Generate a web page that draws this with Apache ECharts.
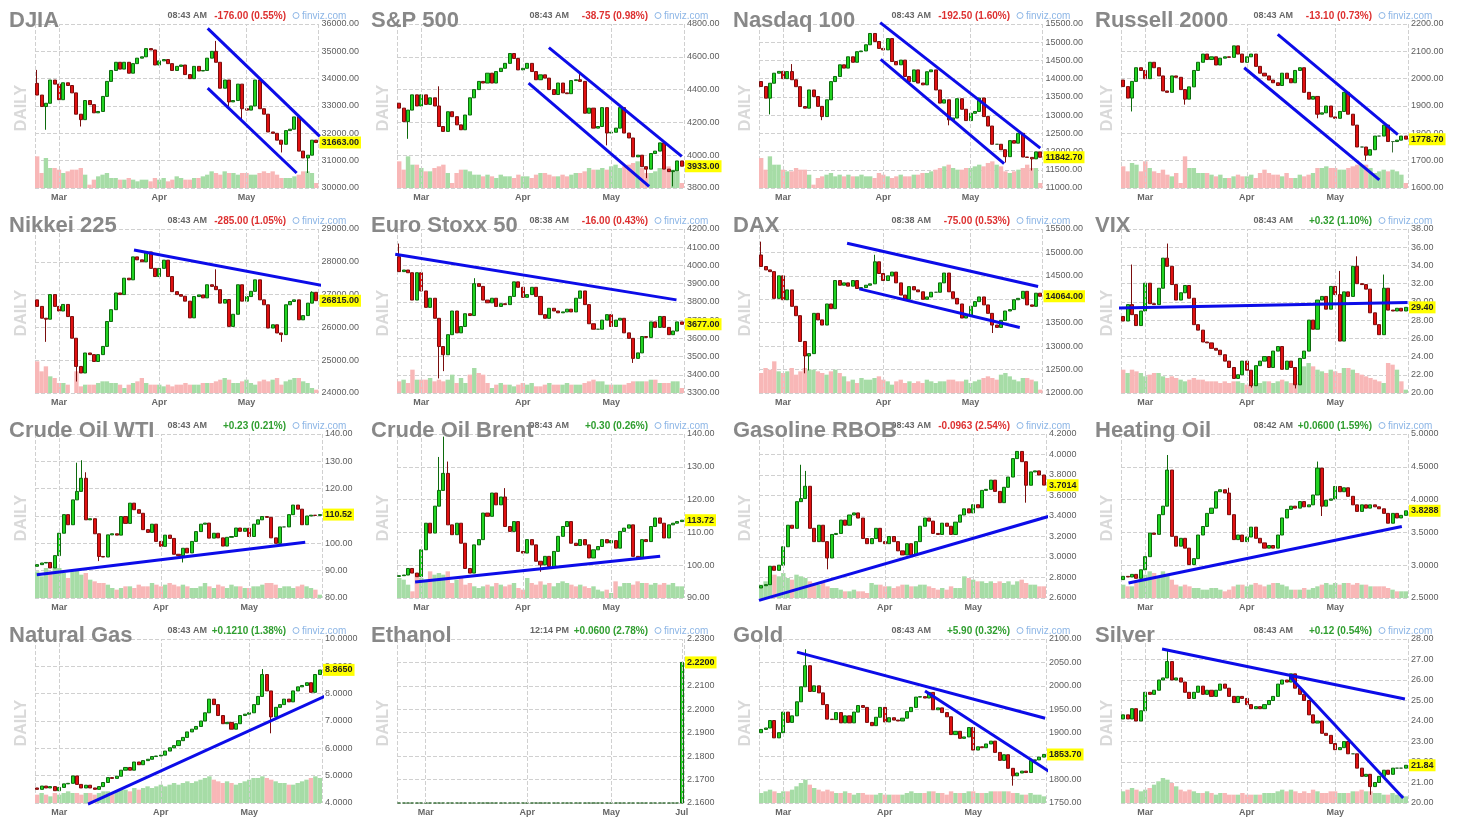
<!DOCTYPE html>
<html>
<head>
<meta charset="utf-8">
<title>Futures daily overview</title>
<script src="https://cdn.jsdelivr.net/npm/echarts@6/dist/echarts.min.js"></script>
<style>
  html, body { margin: 0; padding: 0; background: #fff; }
  #wrap { position: relative; width: 1458px; height: 821px; overflow: hidden; }
  .panel { position: absolute; }
</style>
</head>
<body>
<div id="wrap"></div>
<script>
// month ticks on the day axis (bar index -> label)
const tickIdx = [5, 28, 48];
const tickNames = ['Mar', 'Apr', 'May'];
const ethTickIdx = [6, 29, 48, 64];
const ethTickNames = ['Mar', 'Apr', 'May', 'Jul'];

// price paths: first value = open of the first bar, then the daily closes
const djiaPx = [33830,
  33400, 32980, 33100, 33950, 33800, 33230, 33850, 33750, 33480, 32700,
  32500, 33200, 33050, 32750, 32800, 33350, 33900, 34300, 34600, 34350,
  34600, 34200, 34550, 34750, 34800, 35100, 35050, 34500, 34650, 34700,
  34550, 34300, 34450, 34500, 34150, 34000, 34450, 34280, 34300, 34750,
  35000, 34600, 33650, 33950, 33150, 33200, 33800, 32900, 32850, 33000,
  33950, 32900, 32700, 32050, 32000, 31750, 31600, 32100, 32150, 32600,
  31350, 31100, 31200, 31750, 31663];
const spPx = [4317,
  4287, 4205, 4275, 4368, 4300, 4368, 4310, 4350, 4300, 4175,
  4145, 4265, 4235, 4185, 4155, 4245, 4350, 4400, 4450, 4440,
  4500, 4440, 4510, 4530, 4560, 4620, 4590, 4520, 4530, 4560,
  4510, 4460, 4490, 4470, 4400, 4370, 4440, 4380, 4375, 4455,
  4460, 4450, 4256, 4287, 4165, 4175, 4290, 4135, 4140, 4165,
  4290, 4135, 4105, 3990, 4000, 3930, 3915, 4010, 4025, 4075,
  3915, 3900, 3905, 3965, 3933];
const ndxPx = [13921,
  13784, 13465, 13875, 14150, 14200, 14000, 14195, 13970, 13780, 13235,
  13190, 13690, 13510, 13240, 12960, 13420, 13920, 14060, 14380, 14290,
  14600, 14450, 14740, 14760, 14930, 15240, 15020, 14830, 14790, 15100,
  14470, 14380, 14510, 14060, 13920, 14240, 13880, 13830, 14190, 14240,
  13690, 13330, 13420, 12870, 12920, 13450, 13160, 12850, 13050, 13100,
  13470, 12960, 12700, 12200, 12200, 12050, 11860, 12300, 12230, 12500,
  11850, 11840, 11800, 11990, 11842.7];
const rutPx = [1995,
  1971, 1929, 1990, 2040, 2030, 2000, 2060, 2040, 2010, 1955,
  1950, 2010, 2005, 1960, 1925, 1970, 2030, 2060, 2090, 2070,
  2080, 2050, 2075, 2080, 2078, 2120, 2090, 2060, 2080, 2090,
  2045, 2020, 2010, 1995, 1985, 1975, 2020, 2000, 1985, 2030,
  2040, 1950, 1925, 1935, 1870, 1875, 1900, 1860, 1855, 1880,
  1950, 1870, 1830, 1750, 1750, 1720, 1740, 1790, 1790, 1830,
  1770, 1770, 1775, 1790, 1778.7];
const n225Px = [26840,
  26640, 26280, 26250, 27000, 26640, 26500, 26700, 26330, 25670, 24810,
  24610, 25220, 25170, 24960, 25170, 25420, 26180, 26540, 27050, 27000,
  27500, 27450, 28150, 28060, 28000, 28300, 27800, 27550, 27800, 28050,
  27550, 27090, 27000, 26950, 26800, 26290, 26940, 26990, 26900, 27300,
  27250, 27150, 26740, 26850, 26030, 26400, 27300, 26800, 26940, 27100,
  27450, 26840, 26690, 25980, 26080, 25830, 25780, 26690, 26790, 26840,
  26230, 26360, 26740, 27070, 26815];
const sx5ePx = [4048,
  3966, 3975, 3960, 3810, 3960, 3860, 3770, 3820, 3710, 3555,
  3510, 3620, 3750, 3630, 3665, 3735, 3725, 3900, 3885, 3810,
  3795, 3820, 3775, 3790, 3785, 3830, 3910, 3880, 3825, 3840,
  3880, 3830, 3730, 3710, 3765, 3750, 3740, 3745, 3760, 3745,
  3820, 3860, 3785, 3680, 3650, 3650, 3700, 3730, 3665, 3700,
  3710, 3630, 3600, 3490, 3520, 3610, 3605, 3690, 3660, 3720,
  3660, 3620, 3640, 3690, 3677];
const daxPx = [14946,
  14700, 14627, 14590, 14020, 14500, 13990, 14200, 13850, 13650, 13100,
  12790, 12840, 13700, 13560, 13450, 13900, 13800, 14400, 14300, 14350,
  14280, 14400, 14230, 14250, 14300, 14330, 14800, 14550, 14400, 14500,
  14580, 14350, 14090, 14000, 14270, 14200, 14160, 14000, 14050, 14150,
  14150, 14350, 14560, 14160, 14020, 13900, 13600, 13650, 13850, 13950,
  14050, 13880, 13700, 13450, 13400, 13550, 13750, 13780, 13990, 14020,
  14170, 13880, 13850, 14130, 14064];
const vixPx = [28.4,
  27.9, 29.7, 28.6, 27.4, 29.0, 32.05, 29.8, 29.7, 31.5, 34.8,
  33.9, 31.9, 30.2, 31.0, 31.8, 30.4, 27.5, 26.9, 25.6, 25.5,
  24.9, 24.7, 24.2, 23.5, 22.8, 21.6, 22.0, 23.5, 22.5, 20.8,
  23.0, 23.5, 24.0, 22.8, 24.6, 25.1, 22.6, 23.5, 22.8, 20.9,
  23.8, 24.6, 28.0, 27.0, 30.2, 30.6, 29.2, 31.7, 30.8, 25.7,
  31.1, 30.6, 33.9, 32.0, 31.9, 31.4, 28.8, 27.5, 26.4, 31.5,
  29.1, 29.0, 29.3, 29.0, 29.4];
const wtiPx = [91.6,
  92.2, 92.8, 93.0, 91.0, 95.5, 103.7, 110.5, 106.8, 115.9, 119.0,
  123.8, 108.6, 109.0, 103.5, 95.2, 95.0, 103.1, 103.5, 103.0, 109.8,
  107.3, 114.7, 112.3, 111.0, 105.0, 104.0, 107.0, 100.7, 98.9, 103.0,
  101.8, 96.0, 95.5, 98.2, 96.5, 100.7, 104.3, 107.0, 107.4, 101.9,
  103.7, 102.0, 99.0, 102.2, 102.5, 105.6, 104.4, 105.5, 102.5, 107.0,
  108.6, 109.8, 109.5, 102.0, 100.0, 106.0, 106.0, 110.5, 114.0, 112.5,
  106.8, 110.0, 110.3, 110.2, 110.52];
const brentPx = [96.6,
  96.8, 97.0, 99.0, 97.6, 96.5, 104.7, 112.8, 109.8, 118.0, 122.8,
  128.0, 112.3, 109.3, 112.8, 106.7, 99.0, 97.6, 106.2, 107.8, 115.9,
  114.9, 122.0, 118.4, 120.8, 111.8, 110.3, 113.3, 104.2, 103.7, 107.8,
  106.2, 101.2, 100.1, 102.7, 99.6, 104.2, 108.8, 111.8, 113.3, 106.7,
  106.0, 107.8, 106.2, 102.2, 104.7, 105.7, 107.8, 106.8, 107.5, 105.2,
  110.3, 111.3, 112.3, 102.7, 102.0, 107.8, 107.2, 111.8, 114.4, 112.8,
  108.3, 112.3, 112.8, 113.3, 113.72];
const gasPx = [2.698,
  2.72, 2.73, 2.91, 2.87, 2.92, 3.10, 3.31, 3.28, 3.54, 3.57,
  3.69, 3.28, 3.15, 3.31, 3.15, 2.99, 3.22, 3.23, 3.36, 3.31,
  3.41, 3.43, 3.38, 3.18, 3.13, 3.18, 3.28, 3.15, 3.13, 3.20,
  3.15, 3.06, 3.02, 3.13, 3.02, 3.15, 3.30, 3.38, 3.35, 3.23,
  3.22, 3.33, 3.30, 3.22, 3.34, 3.41, 3.47, 3.43, 3.51, 3.48,
  3.65, 3.66, 3.75, 3.64, 3.53, 3.68, 3.78, 3.96, 4.03, 3.93,
  3.70, 3.83, 3.84, 3.80, 3.7014];
const heatPx = [2.78,
  2.83, 2.82, 2.86, 2.80, 2.93, 3.13, 3.49, 3.47, 3.77, 3.90,
  4.45, 3.44, 3.29, 3.41, 3.26, 3.01, 3.10, 3.46, 3.59, 3.79,
  3.87, 4.12, 4.15, 4.10, 3.77, 3.39, 3.46, 3.36, 3.43, 3.58,
  3.41, 3.34, 3.26, 3.30, 3.26, 3.46, 3.72, 3.85, 3.90, 3.87,
  3.97, 3.89, 3.92, 4.07, 4.48, 3.90, 3.99, 4.01, 4.20, 4.12,
  4.18, 4.05, 3.92, 3.82, 3.92, 3.87, 3.92, 3.89, 3.86, 3.79,
  3.64, 3.79, 3.72, 3.76, 3.8288];
const ngPx = [4.55,
  4.50, 4.62, 4.55, 4.60, 4.45, 4.57, 4.70, 4.72, 4.99, 4.68,
  4.55, 4.65, 4.55, 4.50, 4.60, 4.75, 4.93, 4.90, 4.98, 5.20,
  5.30, 5.20, 5.50, 5.40, 5.55, 5.60, 5.70, 5.72, 5.75, 5.90,
  6.02, 6.10, 6.28, 6.40, 6.60, 6.70, 6.80, 7.00, 7.30, 7.80,
  7.60, 7.20, 6.90, 6.95, 6.70, 6.90, 7.20, 7.25, 7.30, 7.60,
  7.90, 8.70, 8.10, 7.15, 7.50, 7.60, 7.80, 7.70, 8.10, 8.25,
  8.30, 8.40, 8.05, 8.70, 8.865];
const ethPx = [2.16,
  2.16, 2.16, 2.16, 2.16, 2.16, 2.16, 2.16, 2.16, 2.16, 2.16,
  2.16, 2.16, 2.16, 2.16, 2.16, 2.16, 2.16, 2.16, 2.16, 2.16,
  2.16, 2.16, 2.16, 2.16, 2.16, 2.16, 2.16, 2.16, 2.16, 2.16,
  2.16, 2.16, 2.16, 2.16, 2.16, 2.16, 2.16, 2.16, 2.16, 2.16,
  2.16, 2.16, 2.16, 2.16, 2.16, 2.16, 2.16, 2.16, 2.16, 2.16,
  2.16, 2.16, 2.16, 2.16, 2.16, 2.16, 2.16, 2.16, 2.16, 2.16,
  2.16, 2.16, 2.16, 2.16, 2.22];
const goldPx = [1900,
  1907, 1910, 1926, 1889, 1900, 1944, 1922, 1936, 1966, 1998,
  2043, 1988, 2000, 1985, 1960, 1929, 1928, 1943, 1921, 1936,
  1921, 1944, 1958, 1954, 1922, 1915, 1933, 1954, 1923, 1932,
  1927, 1925, 1931, 1945, 1954, 1976, 1977, 1974, 1986, 1949,
  1953, 1943, 1934, 1896, 1903, 1888, 1891, 1911, 1863, 1870,
  1868, 1876, 1882, 1858, 1841, 1853, 1824, 1808, 1814, 1818,
  1815, 1841, 1842, 1848, 1853.7];
const silverPx = [24.1,
  24.3, 24.1, 24.6, 24.0, 24.5, 25.4, 25.3, 25.5, 26.0, 26.1,
  26.9, 26.0, 26.1, 25.9, 25.4, 25.1, 25.4, 25.7, 25.3, 25.5,
  25.2, 25.5, 25.8, 25.6, 25.2, 24.9, 25.2, 25.1, 24.8, 24.6,
  24.7, 24.6, 24.8, 25.0, 25.2, 25.8, 26.0, 25.9, 26.3, 25.6,
  25.3, 25.0, 24.3, 23.9, 24.0, 23.4, 23.3, 22.9, 22.6, 22.7,
  23.0, 22.4, 22.4, 21.7, 21.3, 21.4, 20.8, 21.0, 21.3, 21.6,
  21.4, 21.7, 21.7, 21.7, 21.84];

// the longer wicks seen in the picture: [bar, high, low] (null = no extra wick)
const djiaWicks = [[0, 34320, null], [2, null, 32130], [10, null, 32250], [41, 35380, null], [44, null, 32900], [47, null, 32450], [56, null, 31300], [62, null, 30550]];
const spWicks = [[2, null, 4100], [9, 4420, null], [41, 4510, null], [47, null, 4060], [56, null, 3860], [62, null, 3810]];
const ndxWicks = [[2, null, 13020], [7, 14400, null], [14, null, 12860], [43, null, 12720], [56, null, 11700], [62, null, 11480]];
const rutWicks = [[2, null, 1880], [14, null, 1905], [44, null, 1855], [55, null, 1700], [61, null, 1730]];
const n225Wicks = [[2, null, 25560], [9, null, 24350], [41, 27770, null], [56, null, 25560], [63, 27100, null]];
const sx5eWicks = [[0, 4120, null], [9, null, 3380], [10, null, 3420], [17, 3930, null], [53, null, 3465]];
const daxWicks = [[0, 15230, null], [10, null, 12420], [11, null, 12480], [26, 14950, null], [53, null, 13280]];
const vixWicks = [[2, 34.1, null], [10, 36.4, null], [29, null, 20.6], [39, null, 20.5], [49, 33.4, null], [53, 35.0, null], [59, 33.0, null]];
const wtiWicks = [[9, 129.5, null], [10, 130.4, null], [11, 126.0, null], [14, null, 93.5], [33, null, 93.0]];
const brentWicks = [[9, 133.0, null], [10, 139.2, null], [11, 131.6, null], [24, 123.5, null], [32, null, 98.0]];
const gasWicks = [[9, 3.90, null], [10, 3.84, null], [15, null, 2.88], [60, null, 3.53]];
const heatWicks = [[10, 4.68, null], [24, 4.18, null], [44, 4.58, null], [45, null, 3.75]];
const ngWicks = [[53, null, 6.55], [51, 8.90, null]];
const goldWicks = [[10, 2078, null], [57, null, 1787]];
const silverWicks = [[10, 27.5, null], [56, null, 20.4]];

// relative daily volume
const djiaVol = [95, 45, 90, 60, 60, 55, 45, 50, 55, 55, 60, 40, 10, 25, 35, 40, 45, 30, 30, 25,
  25, 30, 25, 20, 25, 25, 20, 30, 25, 30, 20, 25, 35, 30, 25, 25, 30, 30, 35, 40,
  50, 45, 40, 50, 45, 45, 40, 45, 45, 40, 40, 45, 50, 45, 50, 40, 30, 30, 30, 35,
  40, 50, 50, 45, 15];
const spVol = [80, 55, 95, 70, 70, 60, 50, 50, 60, 65, 70, 45, 15, 45, 55, 55, 50, 40, 40, 35,
  40, 35, 30, 40, 35, 35, 30, 40, 35, 35, 30, 40, 45, 45, 40, 35, 35, 40, 35, 40,
  45, 45, 50, 60, 55, 55, 60, 55, 65, 70, 60, 65, 70, 75, 80, 60, 45, 45, 50, 60,
  55, 65, 55, 50, 15];
const ndxVol = [90, 55, 95, 70, 70, 55, 50, 50, 60, 55, 55, 40, 10, 30, 35, 40, 45, 35, 40, 35,
  40, 35, 35, 40, 35, 35, 30, 45, 40, 35, 30, 35, 40, 35, 35, 40, 40, 45, 45, 50,
  55, 60, 65, 70, 60, 55, 55, 60, 60, 65, 70, 65, 75, 80, 70, 65, 50, 45, 50, 55,
  60, 70, 60, 60, 15];
const rutVol = [65, 50, 75, 70, 50, 80, 60, 50, 45, 55, 40, 35, 45, 15, 95, 60, 60, 45, 45, 45,
  40, 35, 40, 30, 30, 35, 40, 35, 35, 40, 30, 45, 55, 45, 40, 40, 35, 45, 30, 30,
  40, 35, 40, 45, 60, 60, 65, 60, 60, 55, 55, 60, 65, 70, 70, 70, 60, 45, 50, 55,
  50, 55, 50, 40, 15];
const n225Vol = [95, 65, 80, 50, 45, 30, 30, 25, 0, 65, 20, 25, 25, 25, 30, 35, 35, 30, 30, 25,
  15, 25, 30, 35, 45, 30, 25, 25, 25, 20, 25, 20, 25, 25, 30, 25, 25, 25, 30, 30,
  30, 35, 40, 45, 40, 30, 30, 35, 40, 30, 25, 35, 40, 35, 40, 45, 25, 35, 40, 45,
  45, 35, 30, 15, 10];
const sx5eVol = [35, 40, 30, 70, 40, 40, 40, 45, 35, 40, 35, 40, 55, 30, 45, 30, 55, 75, 60, 55,
  30, 15, 25, 30, 25, 25, 20, 25, 30, 25, 30, 20, 20, 25, 30, 25, 25, 25, 30, 25,
  25, 25, 30, 35, 40, 35, 35, 25, 25, 25, 25, 25, 30, 35, 35, 35, 35, 40, 40, 30,
  30, 30, 35, 35, 15];
const daxVol = [60, 75, 70, 95, 65, 60, 65, 75, 55, 65, 75, 70, 70, 65, 60, 55, 65, 70, 60, 50,
  35, 40, 30, 45, 40, 40, 45, 50, 40, 35, 25, 35, 40, 30, 35, 30, 35, 30, 40, 35,
  30, 35, 35, 40, 40, 35, 35, 40, 30, 35, 40, 45, 50, 45, 40, 55, 60, 50, 40, 35,
  45, 45, 40, 35, 10];
const vixVol = [70, 60, 70, 65, 60, 50, 55, 60, 60, 50, 45, 50, 45, 40, 35, 40, 45, 40, 40, 35,
  35, 35, 30, 35, 30, 35, 35, 30, 25, 30, 30, 30, 35, 35, 30, 35, 40, 35, 30, 30,
  55, 80, 90, 80, 70, 65, 60, 70, 65, 60, 75, 75, 70, 60, 55, 50, 45, 40, 35, 30,
  90, 85, 70, 35, 10];
const wtiVol = [80, 65, 90, 80, 95, 90, 75, 60, 80, 85, 70, 75, 55, 50, 45, 45, 40, 30, 25, 30,
  35, 35, 30, 40, 35, 35, 45, 40, 35, 40, 45, 40, 35, 40, 35, 30, 30, 35, 45, 35,
  30, 40, 35, 30, 40, 35, 35, 30, 30, 35, 35, 40, 45, 45, 40, 30, 35, 35, 30, 35,
  40, 35, 30, 25, 10];
const brentVol = [60, 55, 40, 20, 75, 60, 55, 80, 70, 75, 70, 80, 45, 55, 60, 40, 45, 35, 30, 35,
  40, 35, 45, 40, 35, 40, 45, 30, 25, 60, 45, 40, 50, 40, 45, 35, 45, 50, 45, 40,
  35, 40, 35, 30, 35, 25, 20, 25, 15, 50, 35, 45, 45, 40, 50, 45, 45, 40, 45, 40,
  45, 40, 45, 35, 35];
const gasVol = [40, 50, 60, 70, 65, 75, 60, 55, 70, 65, 60, 50, 45, 40, 45, 35, 30, 30, 25, 20,
  20, 25, 20, 20, 15, 45, 40, 40, 35, 35, 30, 35, 40, 40, 35, 35, 40, 40, 35, 30,
  25, 30, 25, 35, 30, 30, 65, 60, 55, 50, 50, 45, 50, 45, 50, 45, 50, 40, 50, 55,
  45, 40, 40, 35, 35];
const heatVol = [40, 35, 35, 45, 65, 70, 80, 75, 60, 80, 70, 55, 40, 35, 40, 35, 30, 30, 25, 25,
  30, 30, 25, 20, 25, 35, 40, 40, 35, 40, 45, 40, 35, 40, 45, 45, 40, 35, 25, 25,
  25, 30, 25, 30, 35, 40, 45, 40, 45, 40, 45, 45, 40, 45, 40, 40, 35, 35, 35, 35,
  30, 25, 20, 20, 20];
const ngVol = [25, 30, 25, 20, 30, 25, 30, 35, 30, 30, 25, 30, 30, 25, 30, 35, 35, 30, 35, 40,
  40, 35, 45, 40, 45, 50, 45, 50, 55, 50, 55, 60, 55, 60, 65, 60, 65, 70, 75, 80,
  70, 65, 60, 65, 60, 55, 60, 65, 70, 75, 75, 80, 75, 70, 65, 60, 60, 55, 55, 60,
  65, 70, 75, 80, 75];
const goldVol = [30, 35, 40, 35, 30, 35, 35, 40, 50, 60, 70, 55, 45, 40, 35, 40, 35, 30, 30, 35,
  30, 25, 30, 30, 25, 25, 25, 30, 25, 25, 25, 25, 25, 30, 35, 30, 30, 30, 35, 35,
  30, 30, 25, 35, 30, 30, 30, 35, 35, 30, 30, 30, 35, 35, 35, 35, 35, 30, 30, 25,
  25, 30, 25, 25, 20];
const silverVol = [35, 40, 45, 40, 35, 40, 45, 55, 65, 75, 70, 60, 50, 40, 35, 40, 35, 30, 30, 35,
  30, 25, 30, 30, 25, 25, 25, 30, 25, 25, 25, 25, 30, 30, 30, 35, 40, 35, 40, 35,
  30, 35, 30, 40, 35, 30, 30, 35, 35, 30, 30, 30, 35, 35, 40, 35, 35, 30, 30, 25,
  25, 30, 25, 25, 20];

// trend lines: [start bar, start value, end bar, end value]
const djiaTrend = [[39.1, 35842, 64.8, 31888], [39.1, 33652, 59.5, 30550]];
const spTrend = [[33.9, 4656, 64.0, 3993], [29.3, 4439, 56.6, 3810]];
const ndxTrend = [[27.3, 15536, 64.0, 12095], [27.4, 14532, 55.7, 11666]];
const rutTrend = [[35.0, 2162, 62.2, 1795], [27.4, 2040, 58.0, 1630]];
const n225Trend = [[22.2, 28361, 66.7, 27246]];
const sx5eTrend = [[-0.9, 4061, 62.8, 3811]];
const daxTrend = [[19.7, 15195, 63.5, 14272], [22.5, 14222, 59.3, 13398]];
const vixTrend = [[-1.6, 29.31, 64.4, 29.93]];
const wtiTrend = [[-0.1, 88.5, 60.7, 100.4]];
const brentTrend = [[3.6, 94.9, 59.1, 102.7]];
const gasTrend = [[-0.5, 2.577, 65.0, 3.395]];
const heatTrend = [[1.2, 2.728, 63.1, 3.590]];
const ngTrend = [[11.5, 3.96, 65.2, 7.91]];
const goldTrend = [[8.1, 2072, 64.3, 1931], [37.1, 1989, 65.4, 1816]];
const silverTrend = [[8.8, 27.51, 63.8, 25.07], [37.8, 26.15, 63.4, 20.24]];

const panels = [
  { name: 'DJIA', time: '08:43 AM', chg: '-176.00 (0.55%)', up: false, px: djiaPx, wicks: djiaWicks, vol: djiaVol, min: 30000, max: 36000, step: 1000, dec: 2, trend: djiaTrend },
  { name: 'S&P 500', time: '08:43 AM', chg: '-38.75 (0.98%)', up: false, px: spPx, wicks: spWicks, vol: spVol, min: 3800, max: 4800, step: 200, dec: 2, trend: spTrend },
  { name: 'Nasdaq 100', time: '08:43 AM', chg: '-192.50 (1.60%)', up: false, px: ndxPx, wicks: ndxWicks, vol: ndxVol, min: 11000, max: 15500, step: 500, dec: 2, trend: ndxTrend },
  { name: 'Russell 2000', time: '08:43 AM', chg: '-13.10 (0.73%)', up: false, px: rutPx, wicks: rutWicks, vol: rutVol, min: 1600, max: 2200, step: 100, dec: 2, trend: rutTrend },
  { name: 'Nikkei 225', time: '08:43 AM', chg: '-285.00 (1.05%)', up: false, px: n225Px, wicks: n225Wicks, vol: n225Vol, min: 24000, max: 29000, step: 1000, dec: 2, trend: n225Trend },
  { name: 'Euro Stoxx 50', time: '08:38 AM', chg: '-16.00 (0.43%)', up: false, px: sx5ePx, wicks: sx5eWicks, vol: sx5eVol, min: 3300, max: 4200, step: 100, dec: 2, trend: sx5eTrend },
  { name: 'DAX', time: '08:38 AM', chg: '-75.00 (0.53%)', up: false, px: daxPx, wicks: daxWicks, vol: daxVol, min: 12000, max: 15500, step: 500, dec: 2, trend: daxTrend },
  { name: 'VIX', time: '08:43 AM', chg: '+0.32 (1.10%)', up: true, px: vixPx, wicks: vixWicks, vol: vixVol, min: 20, max: 38, step: 2, dec: 2, trend: vixTrend },
  { name: 'Crude Oil WTI', time: '08:43 AM', chg: '+0.23 (0.21%)', up: true, px: wtiPx, wicks: wtiWicks, vol: wtiVol, min: 80, max: 140, step: 10, dec: 2, trend: wtiTrend },
  { name: 'Crude Oil Brent', time: '08:43 AM', chg: '+0.30 (0.26%)', up: true, px: brentPx, wicks: brentWicks, vol: brentVol, min: 90, max: 140, step: 10, dec: 2, trend: brentTrend },
  { name: 'Gasoline RBOB', time: '08:43 AM', chg: '-0.0963 (2.54%)', up: false, px: gasPx, wicks: gasWicks, vol: gasVol, min: 2.6, max: 4.2, step: 0.2, dec: 4, trend: gasTrend },
  { name: 'Heating Oil', time: '08:42 AM', chg: '+0.0600 (1.59%)', up: true, px: heatPx, wicks: heatWicks, vol: heatVol, min: 2.5, max: 5.0, step: 0.5, dec: 4, trend: heatTrend },
  { name: 'Natural Gas', time: '08:43 AM', chg: '+0.1210 (1.38%)', up: true, px: ngPx, wicks: ngWicks, vol: ngVol, min: 4, max: 10, step: 1, dec: 4, trend: ngTrend },
  { name: 'Ethanol', time: '12:14 PM', chg: '+0.0600 (2.78%)', up: true, px: ethPx, wicks: [], vol: null, min: 2.16, max: 2.23, step: 0.01, dec: 4, trend: [], ticks: ethTickIdx, tickLabels: ethTickNames },
  { name: 'Gold', time: '08:43 AM', chg: '+5.90 (0.32%)', up: true, px: goldPx, wicks: goldWicks, vol: goldVol, min: 1750, max: 2100, step: 50, dec: 2, trend: goldTrend },
  { name: 'Silver', time: '08:43 AM', chg: '+0.12 (0.54%)', up: true, px: silverPx, wicks: silverWicks, vol: silverVol, min: 20, max: 28, step: 1, dec: 2, trend: silverTrend }
];

const FONT = 'Arial, "Liberation Sans", sans-serif';
const colLeft = [0, 362, 724, 1086];

function buildOption(p) {
  const n = p.px.length - 1;
  const ticks = p.ticks || tickIdx;
  const names = p.tickLabels || tickNames;
  const cats = [], candles = [], vols = [];
  for (let i = 0; i < n; i++) {
    const o = p.px[i], c = p.px[i + 1];
    let lo = Math.min(o, c), hi = Math.max(o, c);
    p.wicks.forEach(w => {
      if (w[0] !== i) return;
      if (w[1] != null) hi = Math.max(hi, w[1]);
      if (w[2] != null) lo = Math.min(lo, w[2]);
    });
    cats.push(String(i));
    candles.push([o, c, lo, hi]);
    if (p.vol) vols.push({ value: p.vol[i], itemStyle: { color: c >= o ? '#a6dca6' : '#f8b7b7' } });
  }
  const last = p.px[n];
  const series = [
    {
      type: 'line', data: [], z: 1, silent: true,
      markLine: {
        silent: true, symbol: 'none', animation: false,
        label: { show: false },
        lineStyle: { type: 'dashed', color: '#d0d0d0', width: 1 },
        data: ticks.map(i => ({ xAxis: i }))
      }
    }
  ];
  if (p.vol) {
    series.push({ type: 'bar', xAxisIndex: 0, yAxisIndex: 1, data: vols, barWidth: '100%', z: 2, silent: true });
  }
  series.push({
    type: 'candlestick', xAxisIndex: 0, yAxisIndex: 0, data: candles, z: 3, barWidth: '80%',
    itemStyle: {
      color: '#21d321', color0: '#e01010',
      borderColor: '#0c6a0c', borderColor0: '#7a0d0d', borderColorDoji: '#3a6e3a', borderWidth: 1
    }
  });
  // last price tag on the right axis
  series.push({
    type: 'line', data: [], z: 6, silent: true,
    markLine: {
      silent: true, symbol: 'none', animation: false,
      lineStyle: { color: 'rgba(0,0,0,0)', width: 1 },
      label: {
        show: true, position: 'end', distance: 1, formatter: last.toFixed(p.dec),
        backgroundColor: '#ffff00', color: '#222', fontSize: 9, fontWeight: 'bold',
        fontFamily: FONT, padding: [2, 2, 1, 2]
      },
      data: [{ yAxis: last }]
    }
  });
  p.trend.forEach(t => {
    series.push({
      type: 'line', xAxisIndex: 1, yAxisIndex: 0, symbol: 'none', clip: false, z: 5, silent: true,
      lineStyle: { color: '#0c0ce8', width: 3 },
      data: [[t[0] + 0.5, t[1]], [t[2] + 0.5, t[3]]]
    });
  });

  return {
    animation: false,
    grid: { left: 35, top: 24, width: 287, height: 164 },
    xAxis: [
      {
        type: 'category', data: cats, boundaryGap: true,
        axisLine: { show: false }, axisTick: { show: false }, splitLine: { show: false },
        axisLabel: {
          interval: 0, margin: 5, color: '#666', fontSize: 9, fontWeight: 'bold', fontFamily: FONT,
          formatter: (v, i) => { const k = ticks.indexOf(i); return k >= 0 ? names[k] : ''; }
        }
      },
      {
        type: 'value', min: 0, max: n, interval: n, position: 'top',
        axisLine: { show: false }, axisTick: { show: false }, axisLabel: { show: false },
        splitLine: { show: true, lineStyle: { type: 'dashed', color: '#d0d0d0' } }
      }
    ],
    yAxis: [
      {
        type: 'value', position: 'right', min: p.min, max: p.max, interval: p.step,
        axisLine: { show: false }, axisTick: { show: false },
        splitLine: { show: true, lineStyle: { type: 'dashed', color: '#d0d0d0' } },
        axisLabel: {
          margin: 3, color: '#5e5e5e', fontSize: 9, fontFamily: FONT,
          formatter: v => v.toFixed(p.dec)
        }
      },
      { type: 'value', min: 0, max: 492, show: false }
    ],
    graphic: [
      { type: 'text', x: 207, y: 16, style: { text: p.time, font: 'bold 9px ' + FONT, fill: '#666', align: 'right', verticalAlign: 'middle' } },
      { type: 'text', x: 286, y: 16, style: { text: p.chg, font: 'bold 10px ' + FONT, fill: p.up ? '#2f9e2f' : '#dd3030', align: 'right', verticalAlign: 'middle' } },
      { type: 'circle', shape: { cx: 296, cy: 15.5, r: 3 }, style: { fill: 'none', stroke: '#8db6e6', lineWidth: 1 } },
      { type: 'text', x: 302, y: 16, style: { text: 'finviz.com', font: '10px ' + FONT, fill: '#8db6e6', align: 'left', verticalAlign: 'middle' } },
      { type: 'text', x: 22, y: 108, rotation: Math.PI / 2, style: { text: 'DAILY', font: 'bold 16px ' + FONT, fill: '#d9d9d9', align: 'center', verticalAlign: 'middle' } },
      { type: 'text', x: 9, y: 20.5, z: 10, style: { text: p.name, font: 'bold 22px ' + FONT, fill: '#888', align: 'left', verticalAlign: 'middle' } }
    ],
    series: series
  };
}

const wrap = document.getElementById('wrap');
panels.forEach((p, k) => {
  const col = k % 4, row = Math.floor(k / 4);
  const div = document.createElement('div');
  div.className = 'panel';
  div.style.left = colLeft[col] + 'px';
  div.style.top = (row * 205) + 'px';
  div.style.width = (col === 3 ? 372 : 362) + 'px';
  div.style.height = (row === 3 ? 206 : 205) + 'px';
  wrap.appendChild(div);
  const chart = echarts.init(div);
  chart.setOption(buildOption(p));
});
</script>
</body>
</html>
